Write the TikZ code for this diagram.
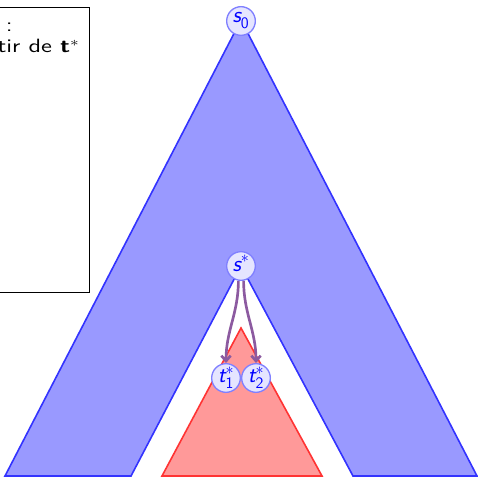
\documentclass[tikz,border=0pt]{standalone}
\usepackage{amsmath}
\usetikzlibrary{arrows.meta}
\definecolor{arcviolet}{RGB}{140,90,160}
\newcommand{\etq}[3]{$\textit{#1}^{#3}_{\textsf{#2}}$}
\begin{document}
\begin{tikzpicture}[x=0.75pt, y=-0.75pt, font=\sffamily\Large]
    \tikzset{etat/.style={circle, draw=blue!50, fill=blue!10, text=blue, line width=1pt, inner sep=0pt, minimum size=21.5pt, font=\sffamily\LARGE},
             fleche/.style={-{Straight Barb[length=4pt, width=7pt]}, line width=2pt, arcviolet},
             texte/.style={anchor=base east, inner sep=0pt, font=\sffamily\Large, xscale=1.3, transform shape}}
    \useasboundingbox (0,0) rectangle (478,478);

    % arbre complet privé du sous-arbre de s*
    \draw[draw=blue!80, fill=blue!40, line width=1.2pt] (241,20) -- (477,476) -- (353,476) -- (241,266) -- (131,476) -- (5,476) -- cycle;
    % sous-arbre de t*
    \draw[draw=red!80, fill=red!40, line width=1.2pt] (241,328) -- (322,476) -- (162,476) -- cycle;

    \node[etat] (s0) at (241,21) {\etq{s}{0}{}};
    \node[etat] (se) at (241,266) {\etq{s}{}{*}};
    \node[etat] (t1) at (226,378) {\etq{t}{1}{*}};
    \node[etat] (t2) at (256,378) {\etq{t}{2}{*}};

    \draw[fleche] (se.-100) to[out=-90, in=90] (t1.north);
    \draw[fleche] (se.-80) to[out=-90, in=90] (t2.north);

    % légende
    \node[draw, anchor=north east, minimum width=200pt, minimum height=214pt] (cadre) at (90,7) {};
    \node[texte] (ligne1) at (13,32) {Sous-arbre exploré :};
    \node[texte] (ligne2) at (80,53) {construit à partir de \textbf{t}$^*$};
\end{tikzpicture}
\end{document}
